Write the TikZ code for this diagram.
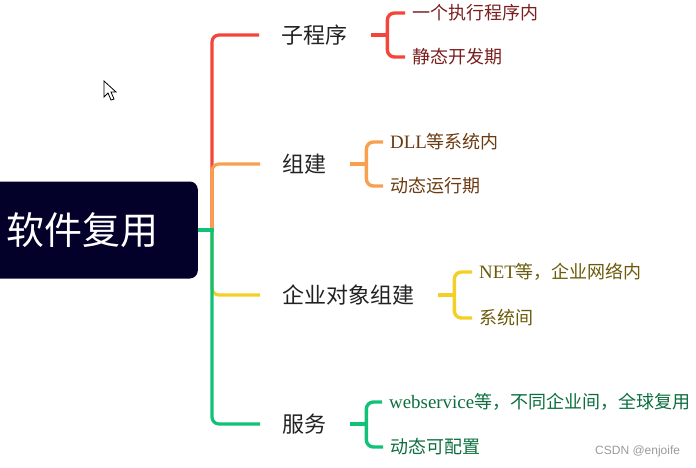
\documentclass[tikz,border=0pt]{standalone}
\usepackage{fontspec}
\setmainfont{Liberation Serif}
\newfontfamily\cjk{Noto Sans CJK SC}
\newfontfamily\lat[Scale=1.05]{Liberation Serif}
\newfontfamily\wmfont{Liberation Sans}
\definecolor{rootC}{HTML}{03002A}
\definecolor{cR}{HTML}{F4453B}
\definecolor{cO}{HTML}{F9A04E}
\definecolor{cY}{HTML}{F4D026}
\definecolor{cG}{HTML}{12C178}
\definecolor{lR}{HTML}{7A1E1E}
\definecolor{lO}{HTML}{6B3A10}
\definecolor{lY}{HTML}{6B5A0A}
\definecolor{lG}{HTML}{0C6E3E}
\definecolor{branchC}{HTML}{222222}
\definecolor{wmC}{HTML}{9A9A9A}
\begin{document}
\begin{tikzpicture}[x=1pt,y=-1pt,
  rootbox/.style={fill=rootC, rounded corners=8pt, text=white,
    font=\cjk\fontsize{38pt}{44pt}\selectfont, minimum height=97pt,
    text width=164pt, inner xsep=27pt, inner ysep=0pt, align=left, anchor=east},
  branch/.style={font=\cjk\fontsize{22pt}{26pt}\selectfont, text=branchC, inner sep=0pt, anchor=west},
  leaf/.style={font=\cjk\fontsize{18pt}{22pt}\selectfont, inner sep=0pt, anchor=west},
  trunk/.style={line width=3.2pt, rounded corners=7pt},
  sub/.style={line width=3.4pt, rounded corners=7pt},
]
\useasboundingbox (0,0) rectangle (696,467);

% root
\node[rootbox] (root) at (198,230) {软件复用};
\coordinate (J) at (212,230);

% branches
\node[branch] (b1) at (281,35) {子程序};
\node[branch] (b2) at (282,164) {组建};
\node[branch] (b3) at (282,295) {企业对象组建};
\node[branch] (b4) at (282,424) {服务};

% trunk connectors
\draw[trunk, cR] (J) |- ([xshift=-22pt]b1.west);
\draw[trunk, cO] (J) |- ([xshift=-22pt]b2.west);
\draw[trunk, cY] (J) |- ([xshift=-22pt]b3.west);
\draw[trunk, cG] (J) |- ([xshift=-22pt]b4.west);
\draw[line width=3.2pt, cG] (root.east) -- ([xshift=1.6pt]J);

% leaves
\node[leaf, text=lR] (l11) at (412,13) {一个执行程序内};
\node[leaf, text=lR] (l12) at (412,57) {静态开发期};
\node[leaf, text=lO] (l21) at (390,142) {{\lat DLL}等系统内};
\node[leaf, text=lO] (l22) at (390,186) {动态运行期};
\node[leaf, text=lY] (l31) at (479,272) {{\lat NET}等，企业网络内};
\node[leaf, text=lY] (l32) at (479,318) {系统间};
\node[leaf, text=lG] (l41) at (389,402) {{\lat webservice}等，不同企业间，全球复用};
\node[leaf, text=lG] (l42) at (390,447) {动态可配置};

% sub brackets
\draw[sub, cR] ([xshift=24pt]b1.east) -- ++(16,0) coordinate (k1);
\draw[sub, cR] ([xshift=-7pt]l11.west) -| (k1) |- ([xshift=-7pt]l12.west);
\draw[sub, cO] ([xshift=24pt]b2.east) -- ++(16,0) coordinate (k2);
\draw[sub, cO] ([xshift=-7pt]l21.west) -| (k2) |- ([xshift=-7pt]l22.west);
\draw[sub, cY] ([xshift=24pt]b3.east) -- ++(16,0) coordinate (k3);
\draw[sub, cY] ([xshift=-7pt]l31.west) -| (k3) |- ([xshift=-7pt]l32.west);
\draw[sub, cG] ([xshift=24pt]b4.east) -- ++(16,0) coordinate (k4);
\draw[sub, cG] ([xshift=-7pt]l41.west) -| (k4) |- ([xshift=-7pt]l42.west);

% mouse cursor
\draw[fill=white, line width=0.8pt, line join=miter]
  (104,81) -- (104,97) -- (108,93) -- (111,100) -- (114,99) -- (111,92) -- (116,92) -- cycle;

% watermark
\node[font=\wmfont\fontsize{12pt}{14pt}\selectfont, text=wmC, anchor=west, inner sep=0pt] (wm) at (595,451) {CSDN @enjoife};
\end{tikzpicture}
\end{document}
